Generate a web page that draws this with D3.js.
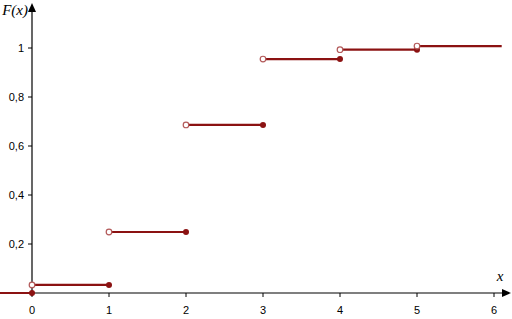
<!DOCTYPE html>
<html>
<head>
<meta charset="utf-8">
<script src="https://cdn.jsdelivr.net/npm/d3@7"></script>
<style>
  body { margin: 0; background: #fff; }
  svg { display: block; }
</style>
</head>
<body>
<svg id="chart" width="512" height="319"></svg>
<script>
// step function F(x): each step runs from start to end at the given value
var stepStart = [-0.42, 0, 1, 2, 3, 4, 5]
var stepEnd   = [0, 1, 2, 3, 4, 5, 6.1]
var stepValue = [0, 0.033, 0.249, 0.686, 0.955, 0.993, 1.008]

var xTicks = [0, 1, 2, 3, 4, 5, 6]
var yTicks = [0.2, 0.4, 0.6, 0.8, 1]
var yTickLabels = ["0,2", "0,4", "0,6", "0,8", "1"]

var lineColor = '#8b1212'
var openColor = '#b35a5a'

var x = d3.scaleLinear().domain([0, 6]).range([32, 494])
var y = d3.scaleLinear().domain([0, 1]).range([293, 48])

var svg = d3.select('#chart')

// axes lines
svg.append('line')
    .attr('x1', 0).attr('y1', y(0))
    .attr('x2', 504).attr('y2', y(0))
    .style('stroke', '#000')
    .style('stroke-width', 1.2)

svg.append('line')
    .attr('x1', x(0)).attr('y1', y(0) + 3)
    .attr('x2', x(0)).attr('y2', 10)
    .style('stroke', '#000')
    .style('stroke-width', 1.2)

// arrow heads
svg.append('path')
    .attr('d', 'M511,' + y(0) + ' L502,' + (y(0) - 4) + ' L502,' + (y(0) + 4) + ' Z')
    .attr('fill', '#000')

svg.append('path')
    .attr('d', 'M' + x(0) + ',3 L' + (x(0) - 4) + ',12 L' + (x(0) + 4) + ',12 Z')
    .attr('fill', '#000')

// x ticks
svg.selectAll('.xtick')
    .data(xTicks)
    .join('line')
    .attr('class', 'xtick')
    .attr('x1', function(d) { return x(d) })
    .attr('x2', function(d) { return x(d) })
    .attr('y1', y(0))
    .attr('y2', y(0) + 4)
    .style('stroke', '#000')

svg.selectAll('.xlabel')
    .data(xTicks)
    .join('text')
    .attr('class', 'xlabel')
    .attr('x', function(d) { return x(d) })
    .attr('y', 314)
    .attr('text-anchor', 'middle')
    .style('font-family', 'Liberation Sans, Arial, sans-serif')
    .style('font-size', '11px')
    .text(function(d) { return d })

// y ticks
svg.selectAll('.ytick')
    .data(yTicks)
    .join('line')
    .attr('class', 'ytick')
    .attr('x1', x(0) - 4)
    .attr('x2', x(0))
    .attr('y1', function(d) { return y(d) })
    .attr('y2', function(d) { return y(d) })
    .style('stroke', '#000')

svg.selectAll('.ylabel')
    .data(yTicks)
    .join('text')
    .attr('class', 'ylabel')
    .attr('x', 24)
    .attr('y', function(d) { return y(d) + 4 })
    .attr('text-anchor', 'end')
    .style('font-family', 'Liberation Sans, Arial, sans-serif')
    .style('font-size', '11px')
    .text(function(d, i) { return yTickLabels[i] })

// axis titles
svg.append('text')
    .attr('x', 28).attr('y', 15)
    .attr('text-anchor', 'end')
    .style('font-family', 'Liberation Serif, Times New Roman, serif')
    .style('font-style', 'italic')
    .style('font-size', '15px')
    .text('F(x)')

svg.append('text')
    .attr('x', 500).attr('y', 281)
    .attr('text-anchor', 'middle')
    .style('font-family', 'Liberation Serif, Times New Roman, serif')
    .style('font-style', 'italic')
    .style('font-size', '15px')
    .text('x')

var steps = stepValue.map(function(v, i) {
    return {x0: stepStart[i], x1: stepEnd[i], v: v}
})

// horizontal segments
svg.selectAll('.step')
    .data(steps)
    .join('line')
    .attr('class', 'step')
    .attr('x1', function(d) { return x(d.x0) })
    .attr('x2', function(d) { return x(d.x1) })
    .attr('y1', function(d) { return y(d.v) })
    .attr('y2', function(d) { return y(d.v) })
    .style('stroke', lineColor)
    .style('stroke-width', 2.2)

// closed circles at right ends (all but last segment)
svg.selectAll('.closed')
    .data(steps.slice(0, -1))
    .join('circle')
    .attr('class', 'closed')
    .attr('cx', function(d) { return x(d.x1) })
    .attr('cy', function(d) { return y(d.v) })
    .attr('r', 3)
    .attr('fill', lineColor)

// open circles at left ends (all but first segment)
svg.selectAll('.open')
    .data(steps.slice(1))
    .join('circle')
    .attr('class', 'open')
    .attr('cx', function(d) { return x(d.x0) })
    .attr('cy', function(d) { return y(d.v) })
    .attr('r', 2.8)
    .attr('fill', '#fff')
    .attr('stroke', openColor)
    .attr('stroke-width', 1.2)
</script>
</body>
</html>
